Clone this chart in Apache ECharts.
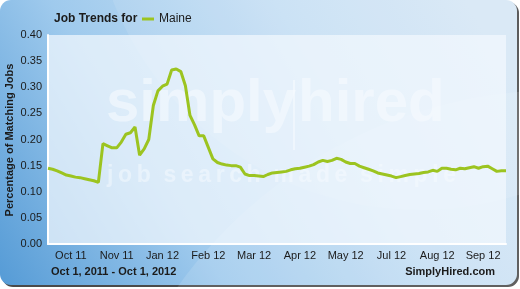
<!DOCTYPE html>
<html>
<head>
<meta charset="utf-8">
<script src="https://cdn.jsdelivr.net/npm/echarts@6/dist/echarts.min.js"></script>
<style>
html,body{margin:0;padding:0;background:#fff;}
#c{width:520px;height:289px;}
</style>
</head>
<body>
<div id="c"></div>
<script>
// ---- data ----
const seriesName = 'Maine';
const maineValues = [
  0.145,0.143,0.140,0.136,0.132,0.130,0.128,0.127,0.125,0.123,
  0.121,0.118,0.192,0.188,0.184,0.184,0.195,0.210,0.213,0.224,
  0.170,0.182,0.200,0.265,0.293,0.302,0.306,0.333,0.335,0.330,
  0.303,0.246,0.228,0.207,0.207,0.185,0.163,0.156,0.153,0.151,
  0.150,0.150,0.147,0.134,0.131,0.131,0.130,0.129,0.133,0.136,
  0.137,0.138,0.139,0.142,0.144,0.145,0.147,0.149,0.152,0.157,
  0.160,0.158,0.160,0.164,0.162,0.157,0.154,0.154,0.149,0.146,
  0.143,0.140,0.136,0.134,0.132,0.130,0.127,0.129,0.131,0.133,
  0.134,0.135,0.137,0.138,0.141,0.139,0.145,0.145,0.143,0.142,
  0.145,0.144,0.146,0.148,0.145,0.148,0.149,0.144,0.139,0.140,
  0.140
];
const xTickLabels = ['Oct 11','Nov 11','Jan 12','Feb 12','Mar 12','Apr 12','May 12','Jul 12','Aug 12','Sep 12'];
const xTickIndex = [5,15,25,35,45,55,65,75,85,95];
const yTicks = [0,0.05,0.10,0.15,0.20,0.25,0.30,0.35,0.40];
const titleText = 'Job Trends for';
const yAxisTitle = 'Percentage of Matching Jobs';
const dateRange = 'Oct 1, 2011 - Oct 1, 2012';
const sourceText = 'SimplyHired.com';

// categories built from data
const categories = maineValues.map((v, i) => {
  const k = xTickIndex.indexOf(i);
  return k >= 0 ? xTickLabels[k] : '';
});

const chart = echarts.init(document.getElementById('c'), null, {renderer: 'canvas'});
const FONT = 'Liberation Sans, Arial, sans-serif';
const TS = '\u2009';
const tagline = ['job', 'search', 'made', 'simple']
  .map(w => w.split('').join(TS)).join('\u00a0\u00a0');
const option = {
  animation: false,
  textStyle: {fontFamily: FONT},
  graphic: [
    // card shadow
    {type: 'rect', z: -20, silent: true,
     shape: {x: 2, y: 2, width: 517, height: 285, r: 11},
     style: {fill: '#4a4a4a'}},
    // card
    {type: 'rect', z: -19, silent: true,
     shape: {x: 0, y: 0, width: 517, height: 285, r: 11},
     style: {fill: new echarts.graphic.LinearGradient(0, 1, 0.9, 0, [
        {offset: 0, color: '#559bd6'},
        {offset: 0.35, color: '#9fcaed'},
        {offset: 0.7, color: '#c6dff4'},
        {offset: 1, color: '#d6e7f5'}])}},
    // sweeping light arcs
    {type: 'circle', z: -18, silent: true,
     shape: {cx: 560, cy: 560, r: 470},
     style: {fill: 'rgba(255,255,255,0.12)'}},
    {type: 'circle', z: -18, silent: true,
     shape: {cx: 420, cy: -120, r: 330},
     style: {fill: 'rgba(255,255,255,0.10)'}},
    // watermark
    {type: 'text', z: -5, silent: true, left: 106, top: 74,
     style: {text: 'simply', font: 'bold 60px ' + FONT, fill: 'rgba(255,255,255,0.6)'}},
    {type: 'rect', z: -5, silent: true,
     shape: {x: 293, y: 80, width: 2, height: 70},
     style: {fill: 'rgba(255,255,255,0.6)'}},
    {type: 'text', z: -5, silent: true, left: 298, top: 74,
     style: {text: 'hired', font: 'bold 60px ' + FONT, fill: 'rgba(255,255,255,0.6)'}},
    {type: 'text', z: -5, silent: true, left: 107, top: 164,
     style: {text: tagline, font: 'bold 23px ' + FONT, fill: 'rgba(255,255,255,0.5)'}},
    // y axis title
    {type: 'text', x: 10, y: 140, rotation: Math.PI / 2,
     style: {text: yAxisTitle, font: 'bold 11px ' + FONT, fill: '#1b1b1b',
             align: 'center', verticalAlign: 'middle'}},
    // footer texts
    {type: 'text', left: 51, top: 266,
     style: {text: dateRange, font: 'bold 11px ' + FONT, fill: '#1b1b1b'}},
    {type: 'text', right: 25, top: 266,
     style: {text: sourceText, font: 'bold 11px ' + FONT, fill: '#1b1b1b'}}
  ],
  title: {
    text: titleText, left: 49, top: 8,
    textStyle: {fontSize: 12, fontWeight: 'bold', color: '#1b1b1b', fontFamily: FONT}
  },
  legend: {
    left: 137, top: 8, itemWidth: 12, itemHeight: 3, itemGap: 4,
    icon: 'rect',
    textStyle: {fontSize: 12, color: '#1b1b1b', fontFamily: FONT},
    data: [seriesName]
  },
  grid: {
    left: 48, right: 14, top: 35, bottom: 45,
    containLabel: false, outerBoundsMode: 'none',
    show: true, backgroundColor: 'rgba(242,248,253,0.72)', borderWidth: 0
  },
  xAxis: {
    type: 'category', data: categories, boundaryGap: false,
    axisLine: {show: true, lineStyle: {color: '#ffffff', width: 2}},
    axisTick: {show: false},
    splitLine: {show: false},
    axisLabel: {
      interval: 0, color: '#1b1b1b', fontSize: 11, margin: 6, fontFamily: FONT
    }
  },
  yAxis: {
    type: 'value', min: yTicks[0], max: yTicks[yTicks.length - 1], interval: 0.05,
    axisLine: {show: true, lineStyle: {color: '#ffffff', width: 2}},
    axisTick: {show: false},
    splitLine: {show: false},
    axisLabel: {color: '#1b1b1b', fontSize: 11, margin: 6, fontFamily: FONT,
      formatter: v => v.toFixed(2)}
  },
  series: [{
    name: seriesName, type: 'line', data: maineValues,
    showSymbol: false, smooth: false,
    lineStyle: {color: '#9cc420', width: 3},
    itemStyle: {color: '#9cc420'}
  }]
};
chart.setOption(option);
</script>
</body>
</html>
